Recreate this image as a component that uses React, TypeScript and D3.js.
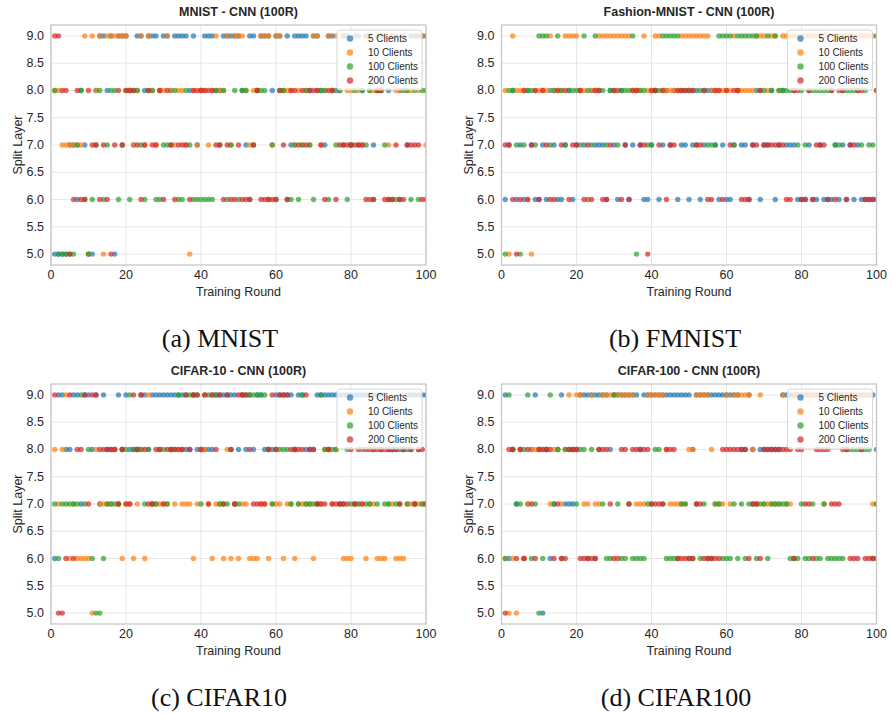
import React from 'react';
import * as d3 from 'd3';

// split layer chosen per training round (rounds 1..100), one digit per round
const clientLabels = ['5 Clients', '10 Clients', '100 Clients', '200 Clients'];
const clientColors = ['#1f77b4', '#ff7f0e', '#2ca02c', '#d62728'];

const mnist5 = ['5555776875', '5899895999', '8799899989', '9899998978', '9998899999', '8799899989', '9897999989', '9879988997', '9989978998', '9989799999'];
const mnist10 = ['8877777795', '9895999999', '8789798788', '9878875878', '8789889799', '9878899979', '9888787879', '9789898988', '9879889897', '9889889897'];
const mnist100 = ['8555557865', '6786788678', '6887688667', '7786687666', '6668786786', '8867888676', '8866767876', '8886878767', '8787868876', '6668868688'];
const mnist200 = ['9988568668', '7767657878', '8876787786', '8767776888', '8887767667', '6667866666', '8768878788', '8768867777', '7776668866', '6766777766'];

const fmnist5 = ['6786768766', '7687667867', '8768777687', '6876787667', '8678786776', '7867887676', '6787767867', '7867877766', '6766766676', '7676766666'];
const fmnist10 = ['8598886588', '8898889999', '8868899999', '9999888988', '9988888999', '9999988888', '8988888999', '8998999999', '9999999999', '9999999998'];
const fmnist100 = ['5887578879', '9978987888', '7987988788', '7888958877', '8899999888', '8788777999', '9799999988', '9898888878', '7888888877', '8888878779'];
const fmnist200 = ['7765686786', '8766878677', '8676886678', '8676887758', '8786778888', '8778668868', '7886667787', '7777766886', '6867776868', '8677886668'];

const cifar10_5 = ['6998899799', '8979888989', '8889989999', '9999988988', '8889999998', '9898998889', '9999899888', '9999999999', '9999999998', '8888899999'];
const cifar10_10 = ['8789676666', '5877778767', '7678697777', '7878777678', '8767768676', '7766677677', '7677677776', '7788787666', '7776776667', '7666777777'];
const cifar10_100 = ['7677777978', '6556777788', '9888787788', '7889899997', '9999777877', '9999999878', '8887879777', '7988887787', '7787787877', '8778787877'];
const cifar10_200 = ['9556968897', '9988888787', '7989877887', '8888898998', '9798979879', '9987777898', '9998888988', '7778777778', '7878888888', '8878987887'];

const cifar100_5 = ['9687867898', '5867897778', '9999999989', '9999998999', '9999999999', '8999999999', '9998898788', '8888999999', '9999999999', '9999999998'];
const cifar100_10 = ['6565867888', '8878878989', '9779779999', '9999977799', '9998777778', '8999987779', '7999998797', '7777977999', '9999979999', '9999999977'];
const cifar100_100 = ['6987789675', '6897868887', '8868687669', '7667666677', '8876666776', '6767667766', '6767677677', '6777776667', '6676676666', '6888888867'];
const cifar100_200 = ['5886868768', '8886766888', '6666688876', '6887888887', '7778886666', '6776666688', '8888867768', '8888888688', '7768888777', '8866686666'];

const xTicks = [0, 20, 40, 60, 80, 100];
const yTicks = [5.0, 5.5, 6.0, 6.5, 7.0, 7.5, 8.0, 8.5, 9.0];

const toLayers = (groups: string[]) => groups.join('').split('').map(Number);

const FONT = '"Liberation Sans", Arial, sans-serif';

interface PanelProps {
    id: string;
    left: number;
    top: number;
    title: string;
    series: string[][];
    caption: string;
    captionX: number;
}

const Panel: React.FC<PanelProps> = ({ id, left, top, title, series, caption, captionX }) => {
    const w = 375;
    const h = 240;
    const x = d3.scaleLinear().domain([0, 100]).range([left, left + w]);
    const y = d3.scaleLinear().domain([4.8, 9.2]).range([top + h, top]);
    const lgLeft = left + w - 89;
    const lgTop = top + 5;

    return (
        <g>
            <defs>
                <clipPath id={`clip-${id}`}>
                    <rect x={left} y={top} width={w} height={h} />
                </clipPath>
            </defs>
            {/* grid */}
            {xTicks.map(t => (
                <line key={`gx${t}`} x1={x(t)} x2={x(t)} y1={top} y2={top + h} stroke="#e6e6e6" strokeWidth={1} />
            ))}
            {yTicks.map(t => (
                <line key={`gy${t}`} x1={left} x2={left + w} y1={y(t)} y2={y(t)} stroke="#e6e6e6" strokeWidth={1} />
            ))}
            {/* points */}
            <g clipPath={`url(#clip-${id})`}>
                {series.map((s, si) =>
                    toLayers(s).map((layer, i) => (
                        <circle key={`p${si}-${i}`} cx={x(i + 1)} cy={y(layer)} r={2.7}
                            fill={clientColors[si]} fillOpacity={0.7} />
                    ))
                )}
            </g>
            <rect x={left} y={top} width={w} height={h} fill="none" stroke="#c4c4c4" strokeWidth={1.25} />
            {/* ticks */}
            {xTicks.map(t => (
                <text key={`tx${t}`} x={x(t)} y={top + h + 10} textAnchor="middle" dominantBaseline="central"
                    fontSize={12.5} fill="#262626" fontFamily={FONT}>{t}</text>
            ))}
            {yTicks.map(t => (
                <text key={`ty${t}`} x={left - 7} y={y(t)} textAnchor="end" dominantBaseline="central"
                    fontSize={12.5} fill="#262626" fontFamily={FONT}>{t.toFixed(1)}</text>
            ))}
            <text x={left + w / 2} y={top + h + 27} textAnchor="middle" dominantBaseline="central"
                fontSize={12.5} fill="#262626" fontFamily={FONT}>Training Round</text>
            <text transform={`translate(${left - 33},${top + h / 2}) rotate(-90)`} textAnchor="middle"
                dominantBaseline="central" fontSize={12.5} fill="#262626" fontFamily={FONT}>Split Layer</text>
            <text x={left + w / 2} y={top - 13} textAnchor="middle" dominantBaseline="central"
                fontSize={12.5} fontWeight="bold" fill="#262626" fontFamily={FONT}>{title}</text>
            {/* legend */}
            <rect x={lgLeft} y={lgTop} width={85} height={60} rx={3} fill="#ffffff" fillOpacity={0.8}
                stroke="#d6d6d6" strokeWidth={1} />
            {clientLabels.map((lab, i) => (
                <g key={lab}>
                    <circle cx={lgLeft + 13} cy={lgTop + 8.5 + i * 14} r={3.2} fill={clientColors[i]} fillOpacity={0.7} />
                    <text x={lgLeft + 31} y={lgTop + 8.5 + i * 14} dominantBaseline="central" fontSize={10}
                        fill="#262626" fontFamily={FONT}>{lab}</text>
                </g>
            ))}
            <text x={captionX} y={top + h + 82} textAnchor="middle" fontSize={26} fill="#111"
                fontFamily='"Liberation Serif", "Times New Roman", serif'>{caption}</text>
        </g>
    );
};

const App: React.FC = () => {
    return (
        <svg width={891} height={714} style={{ position: 'absolute', left: 0, top: 0, background: '#fff' }}>
            <rect width={891} height={714} fill="#fff" />
            <Panel id="a" left={51} top={25} title="MNIST - CNN (100R)"
                series={[mnist5, mnist10, mnist100, mnist200]} caption="(a) MNIST" captionX={220} />
            <Panel id="b" left={501.5} top={25} title="Fashion-MNIST - CNN (100R)"
                series={[fmnist5, fmnist10, fmnist100, fmnist200]} caption="(b) FMNIST" captionX={675} />
            <Panel id="c" left={51} top={384} title="CIFAR-10 - CNN (100R)"
                series={[cifar10_5, cifar10_10, cifar10_100, cifar10_200]} caption="(c) CIFAR10" captionX={219} />
            <Panel id="d" left={501.5} top={384} title="CIFAR-100 - CNN (100R)"
                series={[cifar100_5, cifar100_10, cifar100_100, cifar100_200]} caption="(d) CIFAR100" captionX={676} />
        </svg>
    );
};

export default App;
